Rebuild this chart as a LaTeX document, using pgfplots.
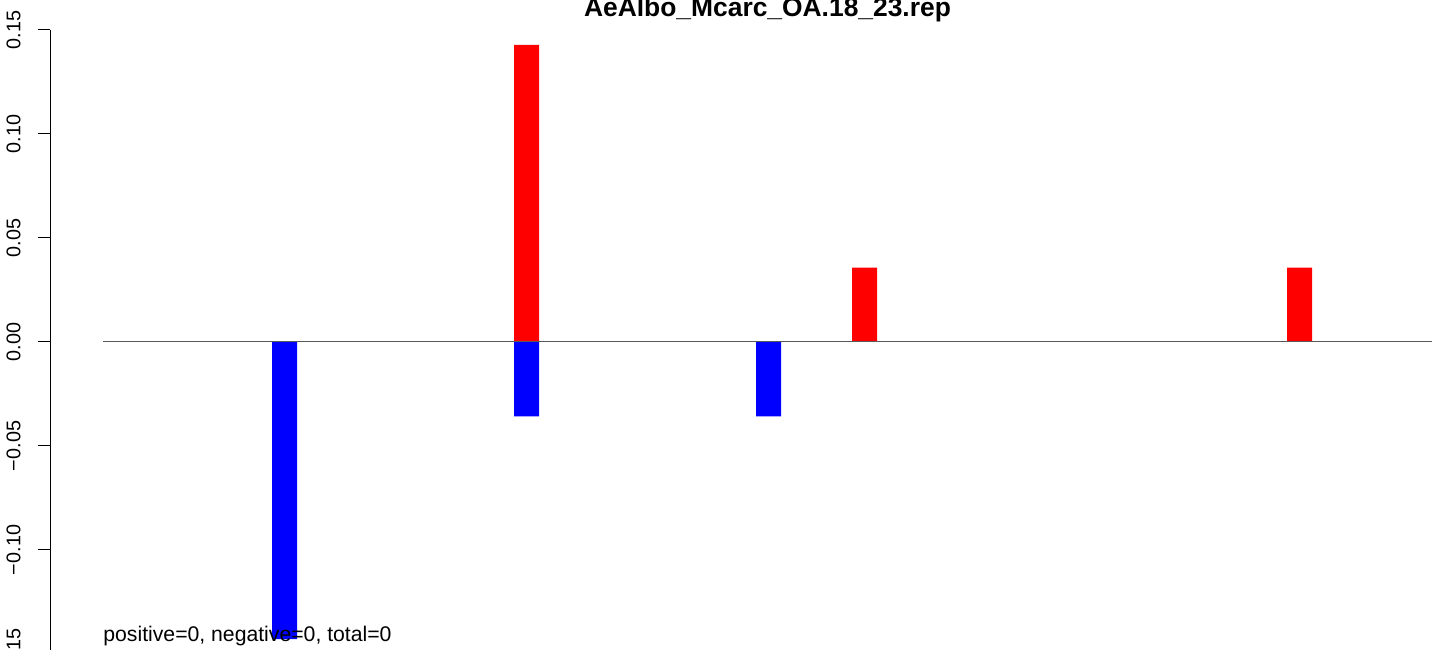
\documentclass[border=0pt]{standalone}
\usepackage{pgfplots}
\pgfplotsset{compat=1.18}
\usepackage{fontspec}
\setmainfont{Liberation Sans}
\begin{document}
\begin{tikzpicture}
\begin{axis}[
  scale only axis,
  x=0.5pt, y=1040pt,
  xmin=50, xmax=1432, ymin=-0.15, ymax=0.15,
  axis x line=none,
  axis y line=left,
  y axis line style={-, line width=0.5pt},
  every outer y axis line/.append style={-},
  ytick={-0.15,-0.1,-0.05,0,0.05,0.1,0.15},
  yticklabels={−0.15,−0.10,−0.05,0.00,0.05,0.10,0.15},
  ytick pos=left,
  tick align=outside,
  major tick length=6pt,
  tick style={line width=0.5pt, black},
  yticklabel style={xshift=-8.5pt, rotate=90, anchor=south, inner sep=0pt, font=\fontsize{9.9}{11}\selectfont},
  clip=false,
]
\addplot[ybar, bar width=25, bar shift=0, fill=blue, draw=none]
  coordinates {(284.5,-0.142857) (526.5,-0.035714) (768.5,-0.035714)};
\addplot[ybar, bar width=25, bar shift=0, fill=red, draw=none]
  coordinates {(526.5,0.142857) (864.5,0.035714) (1299.5,0.035714)};
\addplot[draw=black!65, line width=0.5pt] coordinates {(103,0) (1432,0)};
\node[anchor=base west, inner sep=0pt, font=\fontsize{10.6}{12}\selectfont] at (axis cs:103,-0.14423) {positive=0, negative=0, total=0};
\node[anchor=base, inner sep=0pt, font=\bfseries\fontsize{13.2}{15}\selectfont] at (axis cs:767.5,0.15625) {AeAlbo\_Mcarc\_OA.18\_23.rep};
\coordinate (bl) at (axis cs:50,-0.148077);
\coordinate (tr) at (axis cs:1432,0.164423);
\end{axis}
\pgfresetboundingbox
\path[use as bounding box] ([xshift=-25pt]bl) rectangle ([xshift=4.5pt]tr);
\end{tikzpicture}
\end{document}
